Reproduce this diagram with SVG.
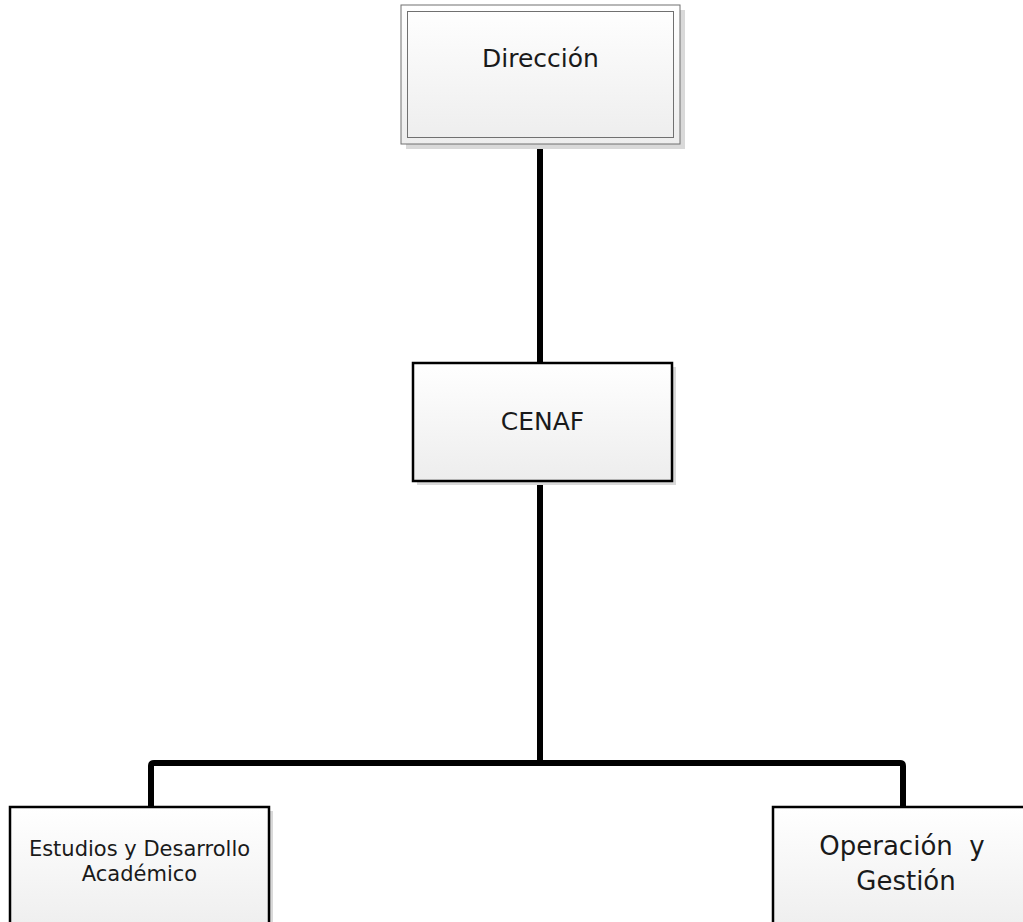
<svg xmlns="http://www.w3.org/2000/svg" width="1023" height="922" viewBox="0 0 1023 922">
<defs>
<linearGradient id="g" x1="0" y1="0" x2="0" y2="1">
<stop offset="0" stop-color="#ffffff"/>
<stop offset="1" stop-color="#ededed"/>
</linearGradient>
<style>
.sh{fill:#d9d9d9}
.box{fill:url(#g);stroke:#000;stroke-width:2.5}
.t{font-family:"DejaVu Sans",sans-serif;fill:#1a1a1a;text-anchor:middle}
.c{fill:none;stroke:#000;stroke-width:6;stroke-linejoin:round}
</style>
</defs>
<rect width="1023" height="922" fill="#fff"/>
<g id="connectors">
<path class="c" d="M540 144 V363"/>
<path class="c" d="M540 481 V763"/>
<path class="c" d="M151 807 V766 Q151 763 154 763 H900 Q903 763 903 766 V807"/>
</g>
<g id="direccion">
<rect class="sh" x="406" y="10" width="279" height="139"/>
<rect x="401" y="5" width="279" height="139" fill="url(#g)" stroke="#707070" stroke-width="1"/>
<rect x="407.5" y="11.5" width="266" height="126" fill="none" stroke="#707070" stroke-width="1"/>
<text class="t" x="540.5" y="67" font-size="25">Dirección</text>
</g>
<g id="cenaf">
<rect class="sh" x="417" y="367" width="259" height="118"/>
<rect class="box" x="413" y="363" width="259" height="118"/>
<text class="t" x="542.5" y="430" font-size="25">CENAF</text>
</g>
<g id="estudios">
<rect class="sh" x="14" y="811" width="259" height="130"/>
<rect class="box" x="10" y="807" width="259" height="130"/>
<text class="t" x="139.5" y="856" font-size="21">Estudios y Desarrollo</text>
<text class="t" x="139.5" y="881" font-size="21">Académico</text>
</g>
<g id="operacion">
<rect class="sh" x="777" y="811" width="259" height="130"/>
<rect class="box" x="773" y="807" width="259" height="130"/>
<text class="t" x="902" y="855" font-size="26" xml:space="preserve">Operación  y</text>
<text class="t" x="906" y="890" font-size="26">Gestión</text>
</g>
</svg>
